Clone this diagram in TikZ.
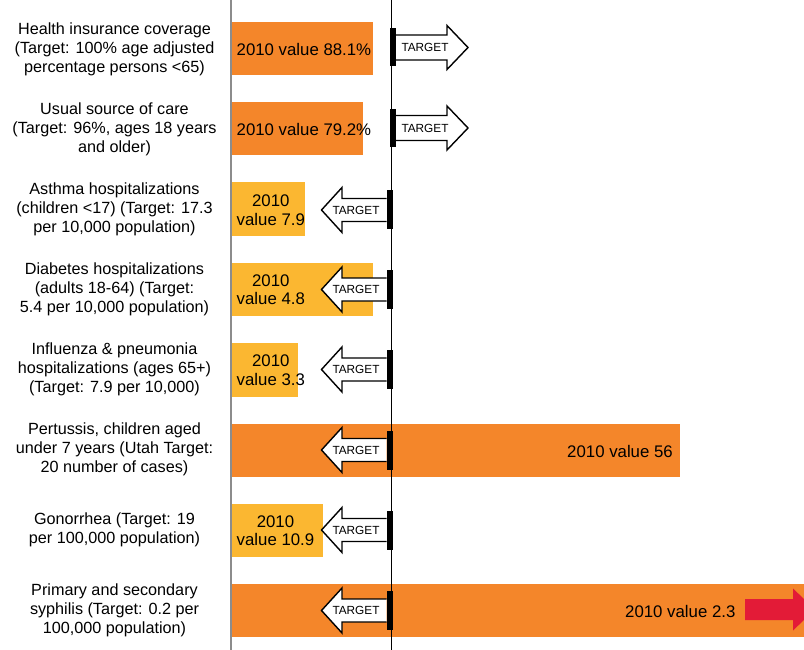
\documentclass[tikz,border=0pt]{standalone}
\usepackage{fontspec}
\setmainfont{Liberation Sans}
\definecolor{barorange}{HTML}{F4862A}
\definecolor{baryellow}{HTML}{FBB731}
\definecolor{arrred}{HTML}{E31B37}
\definecolor{axisgray}{HTML}{8C8C8C}
\tikzset{
  lbl/.style={align=center, font=\fontsize{16.2}{19}\selectfont, inner sep=0pt},
  val/.style={align=center, font=\fontsize{16.8}{18.5}\selectfont, inner sep=0pt, anchor=west},
  tgt/.style={font=\fontsize{11.8}{13}\selectfont, inner sep=0pt},
  arrowbox/.style={draw=black, fill=white, line width=1.4pt, line join=miter},
  marker/.style={fill=black, draw=none},
}
% left-pointing target arrow at row centre #1, named #2
\newcommand{\lefttarget}[2]{%
  \fill[marker] (386.5,#1-19.5) rectangle (392.5,#1+19.5);
  \draw[arrowbox] (386.5,#1-11.5) -- (342,#1-11.5) -- (342,#1-22.5) -- (321.5,#1)
     -- (342,#1+22.5) -- (342,#1+11.5) -- (386.5,#1+11.5);
  \node[tgt] (#2) at (356,#1) {TARGET};
}
\newcommand{\righttarget}[2]{%
  \fill[marker] (390,#1-19) rectangle (396,#1+19);
  \draw[arrowbox] (396,#1-12.5) -- (447,#1-12.5) -- (447,#1-22) -- (468,#1)
     -- (447,#1+22) -- (447,#1+12.5) -- (396,#1+12.5);
  \node[tgt] (#2) at (425,#1) {TARGET};
}
\begin{document}
\begin{tikzpicture}[x=1pt,y=-1pt]
\useasboundingbox (0,0) rectangle (804,650);
\clip (0,0) rectangle (804,650);
% bars
\fill[barorange]  (232,22)  rectangle (372.5,75);
\fill[barorange]  (232,102) rectangle (362.5,155);
\fill[baryellow]  (232,182.5) rectangle (305,236.5);
\fill[baryellow]  (232,262.5) rectangle (372.5,316);
\fill[baryellow]  (232,343) rectangle (298,397);
\fill[barorange]  (232,423.5) rectangle (679.5,477);
\fill[baryellow]  (232,503.5) rectangle (323,556.5);
\fill[barorange]  (232,583.5) rectangle (804,637);
% axis lines
\draw[axisgray, line width=1.5pt] (231,0) -- (231,650);
\draw[black, line width=1.5pt] (391.5,0) -- (391.5,650);
% left labels
\node[lbl] (l1) at (114.5,49)  {Health insurance coverage\\(Target: 100\% age adjusted\\percentage persons <65)};
\node[lbl] (l2) at (114.5,129) {Usual source of care\\(Target: 96\%, ages 18 years\\and older)};
\node[lbl] (l3) at (114.5,209) {Asthma hospitalizations\\(children <17) (Target: 17.3\\per 10,000 population)};
\node[lbl] (l4) at (114.5,289) {Diabetes hospitalizations\\(adults 18-64) (Target:\\5.4 per 10,000 population)};
\node[lbl] (l5) at (114.5,369.5) {Influenza \& pneumonia\\hospitalizations (ages 65+)\\(Target: 7.9 per 10,000)};
\node[lbl] (l6) at (114.5,449.5) {Pertussis, children aged\\under 7 years (Utah Target:\\20 number of cases)};
\node[lbl] (l7) at (114.5,530) {Gonorrhea (Target: 19\\per 100,000 population)};
\node[lbl] (l8) at (114.5,610) {Primary and secondary\\syphilis (Target: 0.2 per\\100,000 population)};
% values
\node[val] (v1) at (236.5,49) {2010 value 88.1\%};
\node[val] (v2) at (236.5,129.5) {2010 value 79.2\%};
\node[val] (v3) at (236.5,210) {2010\\value 7.9};
\node[val] (v4) at (236.5,289.5) {2010\\value 4.8};
\node[val] (v5) at (236.5,370) {2010\\value 3.3};
\node[val, anchor=east] (v6) at (673,451) {2010 value 56};
\node[val] (v7) at (236.5,530.5) {2010\\value 10.9};
\node[val] (v8) at (625,611.5) {2010 value 2.3};
% targets
\righttarget{47.5}{t1}
\righttarget{128}{t2}
\lefttarget{210}{t3}
\lefttarget{289.5}{t4}
\lefttarget{369.5}{t5}
\lefttarget{450}{t6}
\lefttarget{530}{t7}
\lefttarget{610.5}{t8}
% red trend arrow
\fill[arrred] (745,599) -- (793,599) -- (793,588.5) -- (815,609.5) -- (793,630.5) -- (793,620) -- (745,620) -- cycle;
\end{tikzpicture}
\end{document}
